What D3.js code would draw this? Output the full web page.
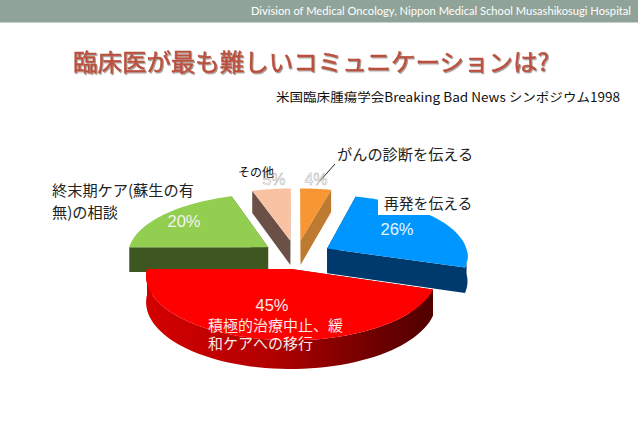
<!DOCTYPE html>
<html><head><meta charset="utf-8">
<script src="https://cdn.jsdelivr.net/npm/d3@7/dist/d3.min.js"></script>
<style>html,body{margin:0;padding:0;background:#fff}svg{display:block}
text{font-family:"Noto Sans CJK JP","Noto Sans",sans-serif}</style></head>
<body><svg id="c" width="638" height="426"></svg>
<script>
const categories = ["がんの診断を伝える","再発を伝える","積極的治療中止、緩和ケアへの移行","終末期ケア(蘇生の有無)の相談","その他"];
const values = [4, 26, 45, 20, 5];
const valueLabels = ["4%","26%","45%","20%","5%"];
const headerText = "Division of Medical Oncology, Nippon Medical School Musashikosugi Hospital";
const titleText = "臨床医が最も難しいコミュニケーションは?";
const subtitleText = "米国臨床腫瘍学会Breaking Bad News シンポジウム1998";

const topColors  = ["#F79633","#0096FF","#FF0000","#92CE50","#F9C3A3"];
const sideColors = ["#BE7A30","#00396B","url(#redWall)","#3E5720","#6A5046"];
const explode    = [37,36,30,35,37];

const svg = d3.select("#c");
const defs = svg.append("defs");
const g = defs.append("linearGradient").attr("id","redWall");
[[0,"#D40000"],[.45,"#B00000"],[.8,"#6E0000"],[1,"#500000"]].forEach(s=>g.append("stop").attr("offset",s[0]).attr("stop-color",s[1]));
const f = defs.append("filter").attr("id","shadow").attr("x","-5%").attr("y","-20%").attr("width","110%").attr("height","150%");
f.append("feDropShadow").attr("dx",1).attr("dy",1.2).attr("stdDeviation",.7).attr("flood-color","#000").attr("flood-opacity",.4);

// header
svg.append("rect").attr("width",638).attr("height",22.5).attr("fill","#8FA398");
svg.append("text").attr("x",631).attr("y",14.5).attr("text-anchor","end").attr("fill","#fff")
  .attr("textLength",380).attr("lengthAdjust","spacingAndGlyphs")
  .style("font-family","Lato").style("font-size","11px").text(headerText);
svg.append("text").attr("x",73).attr("y",71).attr("fill","#B9513E").attr("stroke","#B9513E").attr("stroke-width",.5).attr("filter","url(#shadow)")
  .attr("textLength",476).attr("lengthAdjust","spacingAndGlyphs")
  .style("font-size","24px").text(titleText);
svg.append("text").attr("x",276).attr("y",102).attr("fill","#111")
  .attr("textLength",344).attr("lengthAdjust","spacingAndGlyphs")
  .style("font-size","12.5px").text(subtitleText);

// pie with a perspective projection
const cx=296, cy=256, R=141, tilt=.431, persp=.00075, depth=25;
const arcs = d3.pie().value(d=>d).sort(null).startAngle(0).endAngle(2*Math.PI)(values);
const project = (X,Y)=>{const s=1/(1+persp*Y);return [cx+X*s, cy-tilt*Y*s, s];};
const pointAt = (d,i,a,r)=>{
  const mid=(d.startAngle+d.endAngle)/2, e=explode[i];
  return project(e*Math.sin(mid)+r*Math.sin(a), e*Math.cos(mid)+r*Math.cos(a));
};
const down = p=>[p[0],p[1]+depth*p[2]];
const line = d3.line();
const order = [0,4,3,1,2];
const pie = svg.append("g");
order.forEach(i=>{
  const d=arcs[i];
  const angs=d3.range(0,61).map(k=>d.startAngle+(d.endAngle-d.startAngle)*k/60);
  const rim=angs.map(a=>pointAt(d,i,a,R));
  const apex=pointAt(d,i,0,0);
  const A=rim[0], B=rim[60];
  [A,B].forEach(p=>{
    pie.append("path").attr("d",line([apex,p,down(p),down(apex)])+"Z").attr("fill",i===2?"#7A0000":sideColors[i]);
  });
  const front=rim.filter((p,k)=>Math.cos(angs[k])<=0);
  if(front.length>1){
    pie.append("path").attr("d",line(front.concat(front.map(down).reverse()))+"Z").attr("fill",sideColors[i]);
  }
  pie.append("path").attr("d",line([apex].concat(rim))+"Z").attr("fill",topColors[i]);
});

// white box behind the label, leader
svg.append("rect").attr("x",378).attr("y",193).attr("width",96).attr("height",22).attr("fill","#fff");
svg.append("line").attr("x1",335).attr("y1",164).attr("x2",319).attr("y2",182).attr("stroke","#222").attr("stroke-width",1);

const label=(t,x,y,size,fill,anchor,font)=>{
  const n=svg.append("text").attr("x",x).attr("y",y).attr("fill",fill).attr("text-anchor",anchor||"start").style("font-size",size+"px").text(t);
  if(font) n.style("font-family",font);
  return n;
};
const latin='"Liberation Sans"';
[[4,274,185],[0,316,185]].forEach(a=>label(valueLabels[a[0]],a[1],a[2],16,"#fff","middle",latin).attr("stroke","#B5B5B5").attr("stroke-width",.5));
label(categories[0],337,160,15.2,"#222");
label(categories[1],384,209,14.8,"#222");
label(categories[3].slice(0,10),52,196,15.2,"#222");
label(categories[3].slice(10),52,218,15.2,"#222");
label(categories[4],238,177,12,"#111");
label(valueLabels[3],184,227,16.5,"#F4F4EE","middle",latin);
label(valueLabels[1],397,235,16.5,"#EAF6FF","middle",latin);
label(valueLabels[2],272,311,16.5,"#F8E8E8","middle",latin);
label(categories[2].slice(0,9),208,331,15,"#F8E8E8");
label(categories[2].slice(9),208,349,15,"#F8E8E8");
</script></body></html>
